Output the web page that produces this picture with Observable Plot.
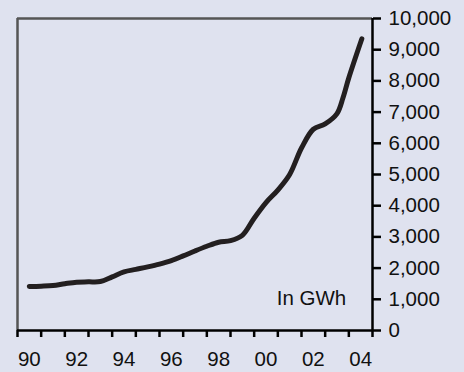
<!DOCTYPE html>
<html>
<head>
<meta charset="utf-8">
<script src="https://cdn.jsdelivr.net/npm/d3@7"></script>
<script src="https://cdn.jsdelivr.net/npm/@observablehq/plot@0.6"></script>
<style>
  html, body { margin: 0; padding: 0; background: #dfe2ef; }
  #chart { width: 464px; height: 372px; }
</style>
</head>
<body>
<div id="chart"></div>
<script>
// Time (year, fractional) and generation in GWh
const times = [1990.5, 1991.0, 1991.5, 1992.0, 1992.5, 1993.0, 1993.5, 1994.0, 1994.5, 1995.0,
  1995.5, 1996.0, 1996.5, 1997.0, 1997.5, 1998.0, 1998.5, 1999.0, 1999.5, 2000.0,
  2000.5, 2001.0, 2001.5, 2002.0, 2002.5, 2003.0, 2003.5, 2003.75, 2004.0, 2004.55];
const values = [1410, 1420, 1440, 1500, 1550, 1560, 1570, 1720, 1880, 1960,
  2040, 2130, 2240, 2390, 2550, 2700, 2830, 2880, 3050, 3600,
  4100, 4500, 5000, 5850, 6450, 6620, 6950, 7450, 8100, 9350];
const yearLabels = ["90", "92", "94", "96", "98", "00", "02", "04"];
const labelYears = [1990, 1992, 1994, 1996, 1998, 2000, 2002, 2004];
const yTicks = [0, 1000, 2000, 3000, 4000, 5000, 6000, 7000, 8000, 9000, 10000];
const unitLabel = "In GWh";

const data = times.map((t, i) => ({t, v: values[i]}));
const minorTicks = d3.range(1990, 2006);

const chart = Plot.plot({
  width: 464,
  height: 372,
  marginLeft: 17,
  marginRight: 92,
  marginTop: 18,
  marginBottom: 42,
  style: {background: "#dfe2ef", fontFamily: "Liberation Sans, Arial, sans-serif", fontSize: "20.5px", color: "#111"},
  x: {domain: [1990, 2005]},
  y: {domain: [0, 10000]},
  marks: [
    Plot.ruleX([1990], {stroke: "#555", strokeWidth: 2.5}),
    Plot.ruleY([10000], {stroke: "#555", strokeWidth: 2.5}),
    Plot.ruleY([0], {stroke: "#000", strokeWidth: 2.5}),
    Plot.ruleX([2005], {stroke: "#000", strokeWidth: 2.5}),
    Plot.axisX({ticks: minorTicks, tickSize: 7, tickFormat: () => "", label: null, strokeWidth: 2.5, stroke: "#000"}),
    Plot.axisX({ticks: labelYears.map(y => y + 0.5), tickSize: 0, tickPadding: 21,
      tickFormat: (d) => yearLabels[labelYears.indexOf(d - 0.5)], label: null, fill: "#111"}),
    Plot.axisY({anchor: "right", ticks: yTicks, tickSize: 8, tickPadding: 8, strokeWidth: 2.5, stroke: "#000",
      tickFormat: d3.format(","), label: null, fill: "#111"}),
    Plot.line(data, {x: "t", y: "v", stroke: "#231f20", strokeWidth: 5, curve: "catmull-rom", strokeLinecap: "round"}),
    Plot.text([unitLabel], {x: 2002.42, y: 1040, text: d => d, fill: "#111", fontSize: 20.5, textAnchor: "middle"})
  ]
});
document.getElementById("chart").appendChild(chart);
</script>
</body>
</html>
